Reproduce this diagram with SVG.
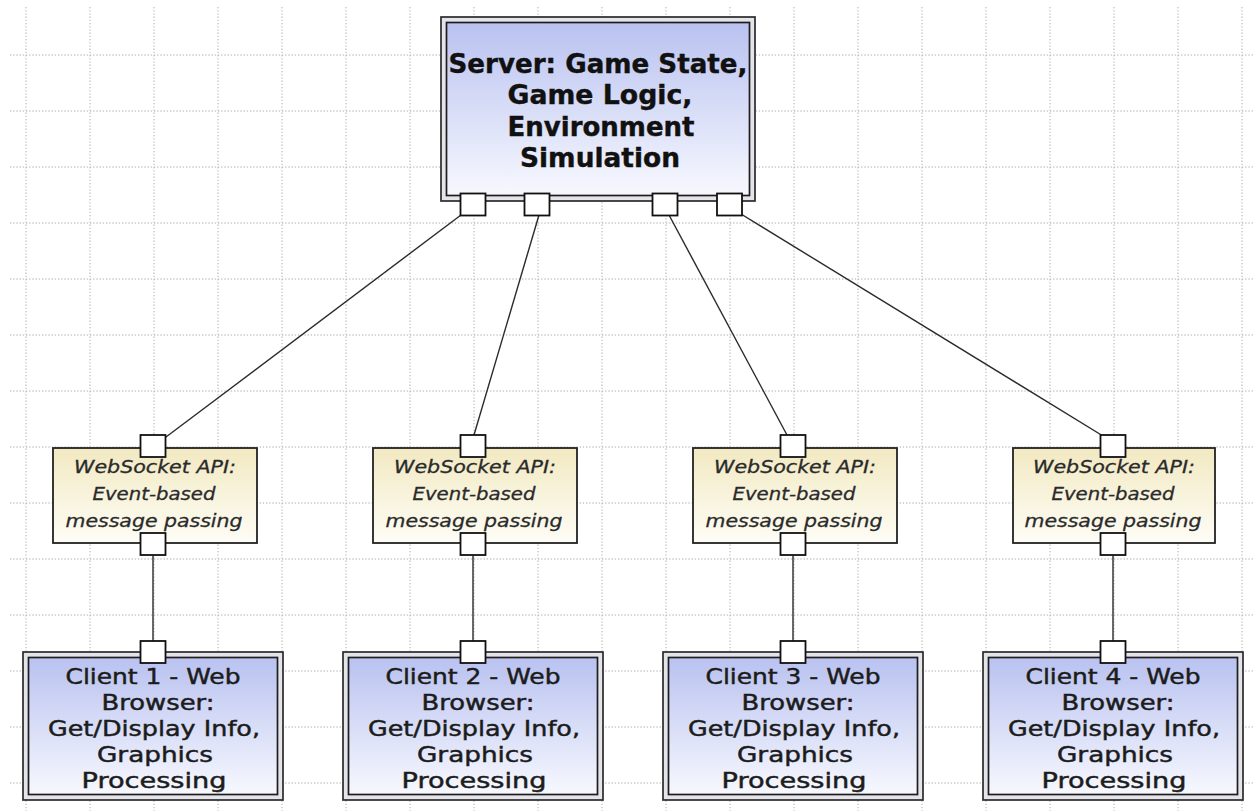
<svg xmlns="http://www.w3.org/2000/svg" width="1254" height="811" viewBox="0 0 1254 811">
  <defs>
    <linearGradient id="blueFill" x1="0" y1="0" x2="0" y2="1">
      <stop offset="0" stop-color="#b9c2f0"/>
      <stop offset="1" stop-color="#f7f8fe"/>
    </linearGradient>
    <linearGradient id="yellowFill" x1="0" y1="0" x2="0" y2="1">
      <stop offset="0" stop-color="#f2e9c2"/>
      <stop offset="1" stop-color="#fefdf6"/>
    </linearGradient>
    <style>
      .grid line { stroke: #c6c6c6; stroke-width: 1.4; stroke-dasharray: 1.3 1.9; }
      .outer { fill: #e4e4ea; stroke: #2b2b2b; stroke-width: 1.7; }
      .inner { fill: url(#blueFill); stroke: #1e1e1e; stroke-width: 1.7; }
      .iface { fill: url(#yellowFill); stroke: #222; stroke-width: 1.8; }
      .port { fill: #ffffff; stroke: #111; stroke-width: 1.8; }
      .conn line { stroke: #2a2a2a; stroke-width: 1.4; fill: none; }
      text { text-anchor: middle; }
      .srv { font-family: "DejaVu Sans", "Liberation Sans", sans-serif; font-weight: bold; font-size: 27px; fill: #111; stroke: #111; stroke-width: 0.4; }
      .cli { font-family: "DejaVu Sans", "Liberation Sans", sans-serif; font-size: 21px; fill: #1c1c1c; stroke: #1c1c1c; stroke-width: 0.45; }
      .api { font-family: "DejaVu Sans", "Liberation Sans", sans-serif; font-style: italic; font-size: 18px; fill: #2a2a2a; stroke: #2a2a2a; stroke-width: 0.3; }
    </style>
  </defs>

  <rect width="1254" height="811" fill="#ffffff"/>

  <!-- dotted background grid -->
  <g class="grid">
    <line x1="26" y1="7" x2="26" y2="811"/>
    <line x1="90" y1="7" x2="90" y2="811"/>
    <line x1="154" y1="7" x2="154" y2="811"/>
    <line x1="218" y1="7" x2="218" y2="811"/>
    <line x1="282" y1="7" x2="282" y2="811"/>
    <line x1="346" y1="7" x2="346" y2="811"/>
    <line x1="410" y1="7" x2="410" y2="811"/>
    <line x1="474" y1="7" x2="474" y2="811"/>
    <line x1="538" y1="7" x2="538" y2="811"/>
    <line x1="602" y1="7" x2="602" y2="811"/>
    <line x1="666" y1="7" x2="666" y2="811"/>
    <line x1="730" y1="7" x2="730" y2="811"/>
    <line x1="794" y1="7" x2="794" y2="811"/>
    <line x1="858" y1="7" x2="858" y2="811"/>
    <line x1="922" y1="7" x2="922" y2="811"/>
    <line x1="986" y1="7" x2="986" y2="811"/>
    <line x1="1050" y1="7" x2="1050" y2="811"/>
    <line x1="1114" y1="7" x2="1114" y2="811"/>
    <line x1="1178" y1="7" x2="1178" y2="811"/>
    <line x1="1242" y1="7" x2="1242" y2="811"/>
    <line x1="10" y1="55" x2="1254" y2="55"/>
    <line x1="10" y1="111" x2="1254" y2="111"/>
    <line x1="10" y1="167" x2="1254" y2="167"/>
    <line x1="10" y1="223" x2="1254" y2="223"/>
    <line x1="10" y1="279" x2="1254" y2="279"/>
    <line x1="10" y1="335" x2="1254" y2="335"/>
    <line x1="10" y1="391" x2="1254" y2="391"/>
    <line x1="10" y1="447" x2="1254" y2="447"/>
    <line x1="10" y1="503" x2="1254" y2="503"/>
    <line x1="10" y1="559" x2="1254" y2="559"/>
    <line x1="10" y1="615" x2="1254" y2="615"/>
    <line x1="10" y1="671" x2="1254" y2="671"/>
    <line x1="10" y1="727" x2="1254" y2="727"/>
    <line x1="10" y1="783" x2="1254" y2="783"/>
  </g>

  <!-- connectors -->
  <g id="connectors" class="conn">
    <line x1="461" y1="215" x2="166" y2="437"/>
    <line x1="539" y1="215" x2="474" y2="435"/>
    <line x1="669" y1="215" x2="787" y2="435"/>
    <line x1="741" y1="214" x2="1103" y2="436"/>
    <line x1="153" y1="555" x2="153" y2="641"/>
    <line x1="473" y1="555" x2="473" y2="641"/>
    <line x1="793" y1="555" x2="793" y2="641"/>
    <line x1="1113" y1="555" x2="1113" y2="641"/>
  </g>

  <!-- server -->
  <g id="server">
    <rect class="outer" x="441" y="17" width="314" height="184"/>
    <rect class="inner" x="446.5" y="22.5" width="303" height="173"/>
    <text class="srv" x="598" y="73" textLength="299" lengthAdjust="spacingAndGlyphs">Server: Game State,</text>
    <text class="srv" x="600" y="104" textLength="185" lengthAdjust="spacingAndGlyphs">Game Logic,</text>
    <text class="srv" x="601" y="136" textLength="187" lengthAdjust="spacingAndGlyphs">Environment</text>
    <text class="srv" x="600" y="167" textLength="160" lengthAdjust="spacingAndGlyphs">Simulation</text>
    <rect class="port" x="460.5" y="193.5" width="25" height="22"/>
    <rect class="port" x="524.5" y="193.5" width="25" height="22"/>
    <rect class="port" x="652.5" y="193.5" width="25" height="22"/>
    <rect class="port" x="717" y="193.5" width="25" height="22"/>
  </g>

  <!-- WebSocket interfaces -->
  <g id="api1">
    <rect class="iface" x="53" y="448" width="204" height="95"/>
    <text class="api" x="155" y="473" textLength="162" lengthAdjust="spacingAndGlyphs">WebSocket API:</text>
    <text class="api" x="154" y="500" textLength="123" lengthAdjust="spacingAndGlyphs">Event-based</text>
    <text class="api" x="154" y="527" textLength="177" lengthAdjust="spacingAndGlyphs">message passing</text>
    <rect class="port" x="140.5" y="435" width="25" height="22"/>
    <rect class="port" x="140.5" y="533" width="25" height="22"/>
  </g>
  <g id="api2">
    <rect class="iface" x="373" y="448" width="204" height="95"/>
    <text class="api" x="475" y="473" textLength="162" lengthAdjust="spacingAndGlyphs">WebSocket API:</text>
    <text class="api" x="474" y="500" textLength="123" lengthAdjust="spacingAndGlyphs">Event-based</text>
    <text class="api" x="474" y="527" textLength="177" lengthAdjust="spacingAndGlyphs">message passing</text>
    <rect class="port" x="460.5" y="435" width="25" height="22"/>
    <rect class="port" x="460.5" y="533" width="25" height="22"/>
  </g>
  <g id="api3">
    <rect class="iface" x="693" y="448" width="204" height="95"/>
    <text class="api" x="795" y="473" textLength="162" lengthAdjust="spacingAndGlyphs">WebSocket API:</text>
    <text class="api" x="794" y="500" textLength="123" lengthAdjust="spacingAndGlyphs">Event-based</text>
    <text class="api" x="794" y="527" textLength="177" lengthAdjust="spacingAndGlyphs">message passing</text>
    <rect class="port" x="780.5" y="435" width="25" height="22"/>
    <rect class="port" x="780.5" y="533" width="25" height="22"/>
  </g>
  <g id="api4">
    <rect class="iface" x="1013" y="448" width="202" height="95"/>
    <text class="api" x="1114" y="473" textLength="162" lengthAdjust="spacingAndGlyphs">WebSocket API:</text>
    <text class="api" x="1113" y="500" textLength="123" lengthAdjust="spacingAndGlyphs">Event-based</text>
    <text class="api" x="1113" y="527" textLength="177" lengthAdjust="spacingAndGlyphs">message passing</text>
    <rect class="port" x="1100.5" y="435" width="25" height="22"/>
    <rect class="port" x="1100.5" y="533" width="25" height="22"/>
  </g>

  <!-- clients -->
  <g id="client1">
    <rect class="outer" x="23" y="652" width="260" height="148"/>
    <rect class="inner" x="28.5" y="657.5" width="249" height="137"/>
    <text class="cli" x="153" y="684" textLength="175" lengthAdjust="spacingAndGlyphs">Client 1 - Web</text>
    <text class="cli" x="158" y="710" textLength="113" lengthAdjust="spacingAndGlyphs">Browser:</text>
    <text class="cli" x="154" y="736" textLength="212" lengthAdjust="spacingAndGlyphs">Get/Display Info,</text>
    <text class="cli" x="155" y="762" textLength="116" lengthAdjust="spacingAndGlyphs">Graphics</text>
    <text class="cli" x="154" y="788" textLength="145" lengthAdjust="spacingAndGlyphs">Processing</text>
    <rect class="port" x="140.5" y="641" width="25" height="22"/>
  </g>
  <g id="client2">
    <rect class="outer" x="343" y="652" width="260" height="148"/>
    <rect class="inner" x="348.5" y="657.5" width="249" height="137"/>
    <text class="cli" x="473" y="684" textLength="175" lengthAdjust="spacingAndGlyphs">Client 2 - Web</text>
    <text class="cli" x="478" y="710" textLength="113" lengthAdjust="spacingAndGlyphs">Browser:</text>
    <text class="cli" x="474" y="736" textLength="212" lengthAdjust="spacingAndGlyphs">Get/Display Info,</text>
    <text class="cli" x="475" y="762" textLength="116" lengthAdjust="spacingAndGlyphs">Graphics</text>
    <text class="cli" x="474" y="788" textLength="145" lengthAdjust="spacingAndGlyphs">Processing</text>
    <rect class="port" x="460.5" y="641" width="25" height="22"/>
  </g>
  <g id="client3">
    <rect class="outer" x="663" y="652" width="260" height="148"/>
    <rect class="inner" x="668.5" y="657.5" width="249" height="137"/>
    <text class="cli" x="793" y="684" textLength="175" lengthAdjust="spacingAndGlyphs">Client 3 - Web</text>
    <text class="cli" x="798" y="710" textLength="113" lengthAdjust="spacingAndGlyphs">Browser:</text>
    <text class="cli" x="794" y="736" textLength="212" lengthAdjust="spacingAndGlyphs">Get/Display Info,</text>
    <text class="cli" x="795" y="762" textLength="116" lengthAdjust="spacingAndGlyphs">Graphics</text>
    <text class="cli" x="794" y="788" textLength="145" lengthAdjust="spacingAndGlyphs">Processing</text>
    <rect class="port" x="780.5" y="641" width="25" height="22"/>
  </g>
  <g id="client4">
    <rect class="outer" x="983" y="652" width="260" height="148"/>
    <rect class="inner" x="988.5" y="657.5" width="249" height="137"/>
    <text class="cli" x="1113" y="684" textLength="175" lengthAdjust="spacingAndGlyphs">Client 4 - Web</text>
    <text class="cli" x="1118" y="710" textLength="113" lengthAdjust="spacingAndGlyphs">Browser:</text>
    <text class="cli" x="1114" y="736" textLength="212" lengthAdjust="spacingAndGlyphs">Get/Display Info,</text>
    <text class="cli" x="1115" y="762" textLength="116" lengthAdjust="spacingAndGlyphs">Graphics</text>
    <text class="cli" x="1114" y="788" textLength="145" lengthAdjust="spacingAndGlyphs">Processing</text>
    <rect class="port" x="1100.5" y="641" width="25" height="22"/>
  </g>
</svg>
